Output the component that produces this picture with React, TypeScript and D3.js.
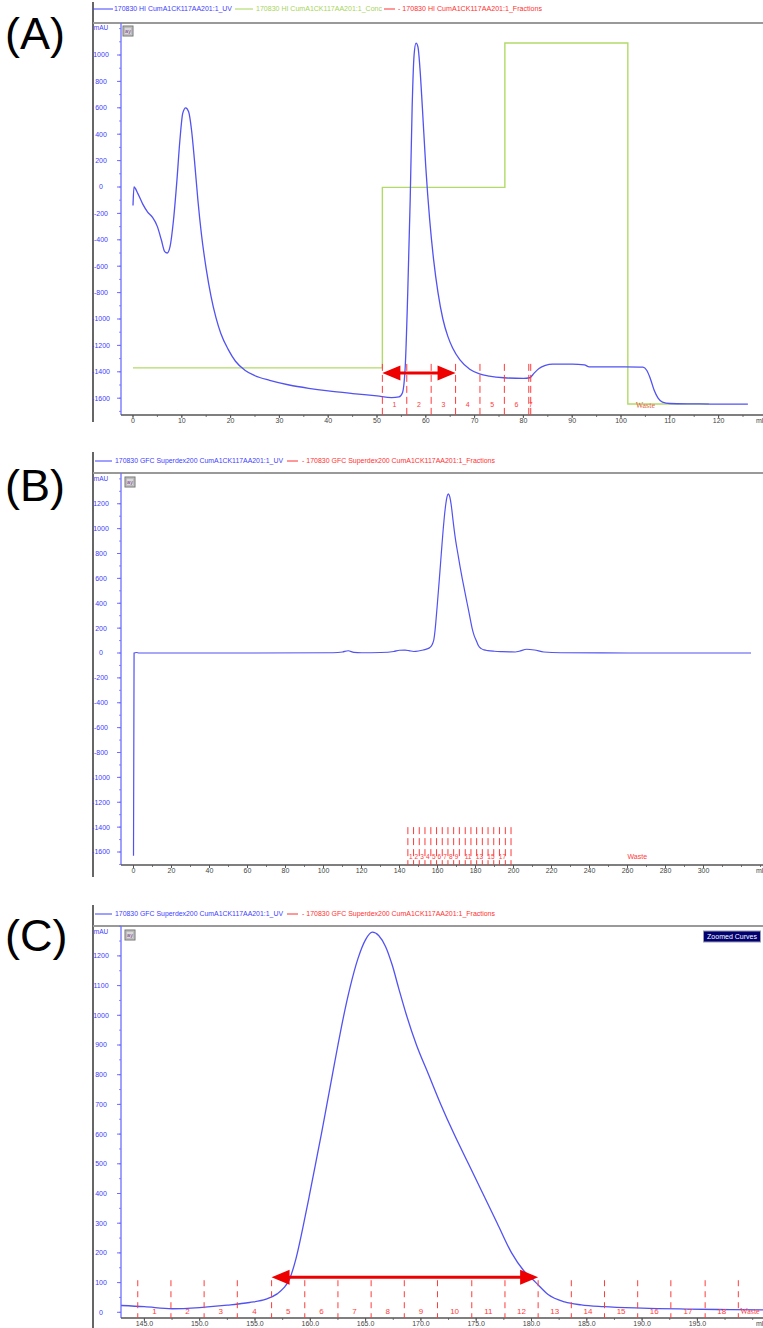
import React from 'react';
import * as d3 from 'd3';

const W = 763;
const H = 1328;

// ---------- Panel A data ----------
const uvA: [number, number][] = [
  [0, -140], [0.2, 0], [1, -50], [2, -130], [3, -190], [4, -230], [5, -300], [5.8, -400], [6.5, -490], [7, -500],
  [7.6, -450], [8.3, -250], [9, 50], [9.6, 350], [10.2, 560], [10.8, 600], [11.4, 570], [12, 430], [12.6, 200],
  [13.3, -100], [14, -350], [15, -620], [16, -830], [17, -990], [18, -1110], [19.5, -1230], [21, -1320], [23, -1390],
  [25, -1430], [28, -1465], [32, -1500], [36, -1525], [40, -1545], [45, -1565], [50, -1583], [53, -1595],
  [54.5, -1590], [55.2, -1560], [55.8, -1350], [56.3, -800], [56.8, -100], [57.2, 600], [57.6, 1000], [58, 1090],
  [58.4, 1060], [58.8, 900], [59.3, 600], [60, 150], [60.8, -250], [61.6, -550], [62.5, -800], [63.5, -1000],
  [64.5, -1130], [65.5, -1220], [67, -1310], [69, -1380], [71, -1415], [73, -1432], [76, -1445], [80, -1450],
  [81.3, -1445], [82.2, -1410], [83.2, -1375], [84.5, -1352], [86, -1342], [90, -1342], [92.5, -1348],
  [93.5, -1362], [100, -1363], [104.5, -1365], [105.3, -1390], [106, -1450], [106.8, -1540], [107.6, -1600],
  [108.5, -1630], [110, -1640], [115, -1643], [120, -1645], [126, -1645],
];
const concA: [number, number][] = [[0, 10], [51.1, 60], [76.2, 100], [101.4, 0], [118, 0]];
const fracA = [51.1, 56.1, 61.1, 66.1, 71.1, 76.1, 81.1, 81.5];
const fracLabelsA = ['1', '2', '3', '4', '5', '6', '7'];
const arrowA = [51.1, 66.1];
const arrowAy = -1410;
const xTicksA = [0, 10, 20, 30, 40, 50, 60, 70, 80, 90, 100, 110, 120];
const yTicksA = [1000, 800, 600, 400, 200, 0, -200, -400, -600, -800, -1000, -1200, -1400, -1600];

// ---------- Panel C data (zoom of B) ----------
const uvC: [number, number][] = [
  [142.9, 23], [145, 19], [147.5, 12], [150, 16], [152.5, 24], [154.5, 33], [156, 44], [157, 62], [157.6, 82],
  [158.1, 110], [158.7, 180], [159.3, 280], [159.9, 390], [160.45, 495], [161, 600], [161.5, 700], [162, 800],
  [162.5, 900], [163, 995], [163.6, 1095], [164.3, 1190], [165, 1255], [165.6, 1280], [166.2, 1268],
  [166.8, 1232], [167.4, 1170], [168, 1090], [168.7, 1000], [169.6, 900], [170.7, 800], [171.8, 700],
  [173, 600], [174.3, 500], [175.6, 400], [176.9, 300], [178.2, 200], [179.3, 140], [180.4, 100], [181.5, 60],
  [183, 35], [184.5, 25], [186.5, 19], [190, 14], [194, 11], [198, 9], [201, 8],
];
const fracBC = [144.4, 147.4, 150.4, 153.4, 156.5, 159.5, 162.5, 165.5, 168.5, 171.5, 174.6, 177.6, 180.6, 183.6, 186.6, 189.6, 192.6, 195.7, 198.7];
const fracLabelsC = ['1', '2', '3', '4', '5', '6', '7', '8', '9', '10', '11', '12', '13', '14', '15', '16', '17', '18'];
const fracLabelsB = ['1', '2', '3', '4', '5', '6', '7', '8', '9', '', '11', '', '13', '', '15', '', '17', ''];
const arrowC = [156.5, 180.6];
const arrowCy = 118;
const xTicksC = [145, 150, 155, 160, 165, 170, 175, 180, 185, 190, 195];
const yTicksC = [1200, 1100, 1000, 900, 800, 700, 600, 500, 400, 300, 200, 100, 0];

// ---------- Panel B data ----------
const uvBpre: [number, number][] = [
  [0, -1630], [0.3, 0], [1.5, 4], [3, 0], [60, 0], [105, 2], [110, 8], [113, 18], [116, 5], [120, 2],
  [130, 4], [137, 12], [140, 22],
];
const uvBpost: [number, number][] = [
  [203, 14], [207, 30], [211, 24], [216, 8], [225, 2], [260, 0], [325, 0],
];
const uvB: [number, number][] = [...uvBpre, ...uvC, ...uvBpost];
const xTicksB = [0, 20, 40, 60, 80, 100, 120, 140, 160, 180, 200, 220, 240, 260, 280, 300];
const yTicksB = [1200, 1000, 800, 600, 400, 200, 0, -200, -400, -600, -800, -1000, -1200, -1400, -1600];

const FONT = "'Liberation Sans', Arial, sans-serif";
const BLUE = '#5252f2';
const BLUE_TXT = '#3c3cff';
const GREEN = '#b2da68';
const RED = '#ff3b3b';
const LEFT = 121;

type LegendItem = { color: string; x1: number; x2: number; tx: number; tw: number; text: string };

function Button({ x, y }: { x: number; y: number }) {
  return (
    <g>
      <rect x={x} y={y} width={10} height={10} fill="#c9c9c9" stroke="#777" strokeWidth={1} />
      <rect x={x + 1.5} y={y + 1.5} width={7} height={7} fill="#d8d8d8" stroke="#aaa" strokeWidth={0.5} />
      <text x={x + 5} y={y + 7} fontSize={5.5} fill="#7a3a8a" textAnchor="middle" fontFamily={FONT}>ay</text>
    </g>
  );
}

function Legend({ y, items }: { y: number; items: LegendItem[] }) {
  return (
    <g>
      {items.map((it, i) => (
        <g key={i}>
          <line x1={it.x1} x2={it.x2} y1={y} y2={y} stroke={it.color} strokeWidth={1} />
          <text x={it.tx} y={y} dy="0.35em" fontSize={6.5} fill={it.color} fontFamily={FONT}
            textLength={it.tw} lengthAdjust="spacingAndGlyphs">{it.text}</text>
        </g>
      ))}
    </g>
  );
}

function Arrow({ x1, x2, y }: { x1: number; x2: number; y: number }) {
  const L = 18, hh = 7.5;
  return (
    <g fill="#ee0000" stroke="none">
      <line x1={x1 + L - 2} x2={x2 - L + 2} y1={y} y2={y} stroke="#ee0000" strokeWidth={3} />
      <polygon points={`${x1},${y} ${x1 + L},${y - hh} ${x1 + L},${y + hh}`} />
      <polygon points={`${x2},${y} ${x2 - L},${y - hh} ${x2 - L},${y + hh}`} />
    </g>
  );
}

interface AxesProps {
  top: number;
  axisY: number;
  x: d3.ScaleLinear<number, number>;
  y: d3.ScaleLinear<number, number>;
  xTicks: number[];
  xMinorStep: number;
  xFmt: (v: number) => string;
  yTicks: number[];
  yMinorStep: number;
  mauY: number;
}

function Axes(p: AxesProps) {
  const yDom = [p.y.invert(p.axisY), p.y.invert(p.top)];
  const xDom = [p.x.invert(LEFT), p.x.invert(W)];
  const yMinor = d3.range(Math.ceil(yDom[0] / p.yMinorStep) * p.yMinorStep, yDom[1], p.yMinorStep);
  const xMinor = d3.range(Math.ceil(xDom[0] / p.xMinorStep) * p.xMinorStep, xDom[1], p.xMinorStep);
  return (
    <g fontFamily={FONT}>
      <line x1={LEFT} x2={LEFT} y1={p.top} y2={p.axisY} stroke="#6d6dff" strokeWidth={1.3} />
      {yMinor.map((v, i) => (
        <line key={'ym' + i} x1={LEFT - 2} x2={LEFT} y1={p.y(v)} y2={p.y(v)} stroke="#6d6dff" strokeWidth={0.8} />
      ))}
      {p.yTicks.map((v) => (
        <g key={'y' + v}>
          <line x1={LEFT - 4} x2={LEFT} y1={p.y(v)} y2={p.y(v)} stroke="#6d6dff" strokeWidth={1} />
          <text x={101} y={p.y(v)} dy="0.35em" fontSize={7} fill={BLUE_TXT} textAnchor="middle">{String(v)}</text>
        </g>
      ))}
      <text x={101} y={p.mauY} dy="0.35em" fontSize={6.5} fill={BLUE_TXT} textAnchor="middle">mAU</text>
      <line x1={LEFT} x2={W} y1={p.axisY} y2={p.axisY} stroke="#555" strokeWidth={1.5} />
      {xMinor.map((v, i) => (
        <line key={'xm' + i} x1={p.x(v)} x2={p.x(v)} y1={p.axisY} y2={p.axisY + 2} stroke="#555" strokeWidth={0.8} />
      ))}
      {p.xTicks.map((v) => (
        <g key={'x' + v}>
          <line x1={p.x(v)} x2={p.x(v)} y1={p.axisY} y2={p.axisY + 3} stroke="#555" strokeWidth={1} />
          <text x={p.x(v)} y={p.axisY + 6} dy="0.35em" fontSize={7} fill="#444" textAnchor="middle">{p.xFmt(v)}</text>
        </g>
      ))}
      <text x={756} y={p.axisY + 6} dy="0.35em" fontSize={7} fill="#444">ml</text>
    </g>
  );
}

function Fractions({ x, y, bounds, labels, topVal, axisY, labelDy, fontSize, dash, lastShift = 0 }: {
  x: d3.ScaleLinear<number, number>; y: d3.ScaleLinear<number, number>; bounds: number[]; labels: string[];
  topVal: number; axisY: number; labelDy: number; fontSize: number; dash: string; lastShift?: number;
}) {
  return (
    <g fontFamily={FONT}>
      {bounds.map((b, i) => (
        <line key={'f' + i} x1={x(b)} x2={x(b)} y1={y(topVal)} y2={axisY} stroke={RED} strokeWidth={1} strokeDasharray={dash} />
      ))}
      {labels.map((l, i) => (
        <text key={'fl' + i} x={(x(bounds[i]) + x(bounds[i + 1])) / 2 + (i === labels.length - 1 ? lastShift : 0)}
          y={axisY - labelDy} fontSize={fontSize} fill={RED} textAnchor="middle">{l}</text>
      ))}
    </g>
  );
}

export default function App() {
  const xA = d3.scaleLinear().domain([0, 120]).range([133, 133 + 585.6]);
  const yA = d3.scaleLinear().domain([0, 1000]).range([187, 55]);
  const cA = d3.scaleLinear().domain([0, 100]).range([404, 43]);
  const topA = 23, axisA = 415;

  const xB = d3.scaleLinear().domain([0, 300]).range([133.5, 703.5]);
  const yB = d3.scaleLinear().domain([0, 1200]).range([653, 503.75]);
  const topB = 473, axisB = 865;

  const xC = d3.scaleLinear().domain([145, 195]).range([144.4, 697.4]);
  const yC = d3.scaleLinear().domain([0, 1200]).range([1312.3, 955.9]);
  const topC = 926, axisC = 1318;

  const lineA = d3.line<[number, number]>().x((d) => xA(d[0])).y((d) => yA(d[1])).curve(d3.curveMonotoneX);
  const stepA = d3.line<[number, number]>().x((d) => xA(d[0])).y((d) => cA(d[1])).curve(d3.curveStepAfter);
  const lineB = d3.line<[number, number]>().x((d) => xB(d[0])).y((d) => yB(d[1])).curve(d3.curveMonotoneX);
  const lineC = d3.line<[number, number]>().x((d) => xC(d[0])).y((d) => yC(d[1])).curve(d3.curveMonotoneX);

  const legendA: LegendItem[] = [
    { color: '#4040ff', x1: 93, x2: 113, tx: 114, tw: 118, text: '170830 HI CumA1CK117AA201:1_UV' },
    { color: '#a6d45a', x1: 235, x2: 253, tx: 256, tw: 126, text: '170830 HI CumA1CK117AA201:1_Conc' },
    { color: '#ff3030', x1: 384, x2: 395, tx: 398, tw: 144, text: '- 170830 HI CumA1CK117AA201:1_Fractions' },
  ];
  const legendBC: LegendItem[] = [
    { color: '#4040ff', x1: 95, x2: 112, tx: 115, tw: 168, text: '170830 GFC Superdex200 CumA1CK117AA201:1_UV' },
    { color: '#ff3030', x1: 287, x2: 298, tx: 302, tw: 193, text: '- 170830 GFC Superdex200 CumA1CK117AA201:1_Fractions' },
  ];

  const fmtInt = (v: number) => String(v);
  const fmtC = (v: number) => v.toFixed(1);

  return (
    <svg width={W} height={H} viewBox={`0 0 ${W} ${H}`} style={{ position: 'absolute', left: 0, top: 0, background: '#fff' }}>
      <defs>
        <clipPath id="clipA"><rect x={LEFT} y={topA} width={W - LEFT} height={axisA - topA} /></clipPath>
        <clipPath id="clipB"><rect x={LEFT} y={topB} width={W - LEFT} height={axisB - topB} /></clipPath>
        <clipPath id="clipC"><rect x={LEFT} y={topC} width={W - LEFT} height={axisC - topC} /></clipPath>
      </defs>
      <rect x={0} y={0} width={W} height={H} fill="#fff" />

      {/* ===== Panel A ===== */}
      <text x={5} y={49} fontSize={45} fontFamily={FONT} fill="#000">(A)</text>
      <line x1={93} x2={93} y1={2} y2={422} stroke="#333" strokeWidth={1.5} />
      <line x1={93} x2={W} y1={topA} y2={topA} stroke="#999" strokeWidth={2} />
      <Legend y={9} items={legendA} />
      <Axes top={topA} axisY={axisA} x={xA} y={yA} xTicks={xTicksA} xMinorStep={5} xFmt={fmtInt}
        yTicks={yTicksA} yMinorStep={100} mauY={28} />
      <Button x={123} y={26} />
      <g clipPath="url(#clipA)">
        <path d={stepA(concA) || ''} fill="none" stroke={GREEN} strokeWidth={1.4} />
        <path d={lineA(uvA) || ''} fill="none" stroke={BLUE} strokeWidth={1.3} />
      </g>
      <Fractions x={xA} y={yA} bounds={fracA} labels={fracLabelsA} topVal={-1340} axisY={axisA} labelDy={8}
        fontSize={7} dash="7,4" lastShift={1} />
      <text x={xA(103)} y={axisA - 7} fontSize={8} fill="#e0603a" fontFamily="'Liberation Serif', serif">Waste</text>
      <Arrow x1={xA(arrowA[0])} x2={xA(arrowA[1])} y={yA(arrowAy)} />

      {/* ===== Panel B ===== */}
      <text x={5} y={501} fontSize={45} fontFamily={FONT} fill="#000">(B)</text>
      <line x1={93} x2={93} y1={452} y2={877} stroke="#333" strokeWidth={1.5} />
      <line x1={93} x2={W} y1={topB} y2={topB} stroke="#999" strokeWidth={2} />
      <Legend y={461} items={legendBC} />
      <Axes top={topB} axisY={axisB} x={xB} y={yB} xTicks={xTicksB} xMinorStep={10} xFmt={fmtInt}
        yTicks={yTicksB} yMinorStep={100} mauY={479} />
      <Button x={125} y={477} />
      <g clipPath="url(#clipB)">
        <path d={lineB(uvB) || ''} fill="none" stroke={BLUE} strokeWidth={1.2} />
      </g>
      <Fractions x={xB} y={yB} bounds={fracBC} labels={fracLabelsB} topVal={-1400} axisY={axisB} labelDy={6}
        fontSize={6.5} dash="7,4" />
      <text x={xB(260)} y={axisB - 6} fontSize={7} fill={RED} fontFamily={FONT}>Waste</text>

      {/* ===== Panel C ===== */}
      <text x={5} y={951} fontSize={45} fontFamily={FONT} fill="#000">(C)</text>
      <line x1={93} x2={93} y1={905} y2={H} stroke="#333" strokeWidth={1.5} />
      <line x1={93} x2={W} y1={topC} y2={topC} stroke="#999" strokeWidth={2} />
      <Legend y={914} items={legendBC} />
      <Axes top={topC} axisY={axisC} x={xC} y={yC} xTicks={xTicksC} xMinorStep={2.5} xFmt={fmtC}
        yTicks={yTicksC} yMinorStep={50} mauY={932} />
      <Button x={125} y={930} />
      <g>
        <rect x={703.5} y={931} width={57} height={11} fill="#000070" stroke="#9a9ab0" strokeWidth={1} />
        <text x={732} y={936.5} dy="0.35em" fontSize={7} fill="#fff" textAnchor="middle" fontFamily={FONT}>Zoomed Curves</text>
      </g>
      <g clipPath="url(#clipC)">
        <path d={lineC(uvC) || ''} fill="none" stroke={BLUE} strokeWidth={1.3} />
      </g>
      <Fractions x={xC} y={yC} bounds={fracBC} labels={fracLabelsC} topVal={108} axisY={axisC} labelDy={4.5}
        fontSize={8} dash="6,5" />
      <text x={xC(fracBC[fracBC.length - 1]) + 2} y={axisC - 4.5} fontSize={8} fill={RED} fontFamily="'Liberation Serif', serif">Waste</text>
      <Arrow x1={xC(arrowC[0])} x2={xC(arrowC[1])} y={yC(arrowCy)} />
    </svg>
  );
}
